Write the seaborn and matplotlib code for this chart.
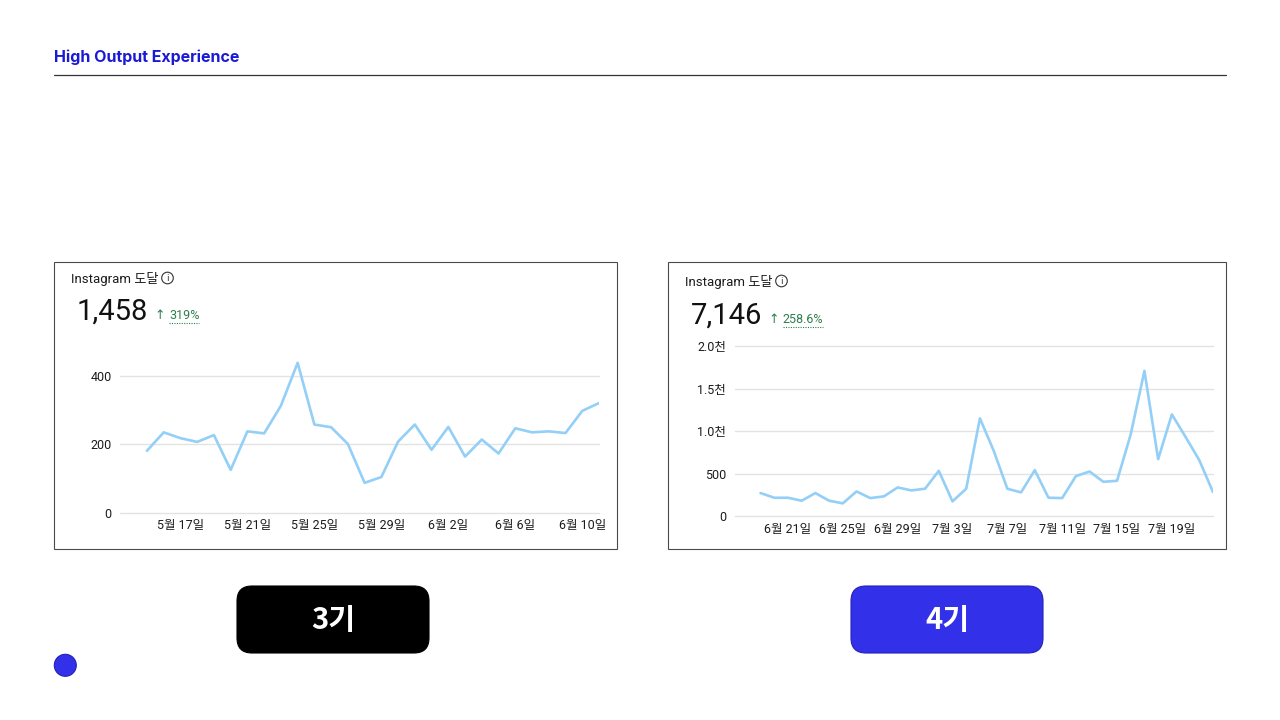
import seaborn as sns
import pandas as pd
import matplotlib.pyplot as plt
from matplotlib.patches import Rectangle, FancyBboxPatch, Circle
from matplotlib.lines import Line2D

W, H = 1280, 720

# 3기 : daily Instagram reach, 5/15 ~ 6/11
s3_start = '2023-05-15'
s3_values = [181, 235, 218, 207, 227, 125, 238, 232, 313, 439, 258, 250, 201, 87,
             104, 208, 258, 184, 251, 164, 214, 173, 247, 235, 238, 233, 298, 321]
s3_tick_dates = ['2023-05-17', '2023-05-21', '2023-05-25', '2023-05-29',
                 '2023-06-02', '2023-06-06', '2023-06-10']
s3_tick_labels = ['5월 17일', '5월 21일', '5월 25일', '5월 29일', '6월 2일', '6월 6일', '6월 10일']
s3_yticks = [0, 200, 400]
s3_ylabels = ['0', '200', '400']
s3_total = '1,458'
s3_change = '319%'

# 4기 : daily Instagram reach, 6/19 ~ 7/22
s4_start = '2023-06-19'
s4_values = [273, 218, 218, 183, 273, 183, 152, 292, 214, 234, 339, 304, 324, 534,
             175, 324, 1150, 772, 324, 281, 542, 218, 214, 472, 526, 405, 417, 963,
             1708, 671, 1197, 932, 659, 285]
s4_tick_dates = ['2023-06-21', '2023-06-25', '2023-06-29', '2023-07-03',
                 '2023-07-07', '2023-07-11', '2023-07-15', '2023-07-19']
s4_tick_labels = ['6월 21일', '6월 25일', '6월 29일', '7월 3일', '7월 7일', '7월 11일', '7월 15일', '7월 19일']
s4_yticks = [0, 500, 1000, 1500, 2000]
s4_ylabels = ['0', '500', '1.0천', '1.5천', '2.0천']
s4_total = '7,146'
s4_change = '258.6%'

sns.set_theme(style="white")
FONT = ['Roboto', 'Noto Sans CJK KR', 'DejaVu Sans']
plt.rcParams['font.family'] = FONT

LINE = '#93cff7'
GREEN = '#2f7d4c'
BLUE = '#3330ea'

fig = plt.figure(figsize=(12.8, 7.2), dpi=100)
bg = fig.add_axes([0, 0, 1, 1])
bg.set_xlim(0, W)
bg.set_ylim(H, 0)
bg.axis('off')

# header
bg.text(54, 62, 'High Output Experience', fontsize=11.5, fontweight='bold',
        color='#1a1ad6', family=['Inter', 'DejaVu Sans'], va='baseline')
bg.add_line(Line2D([54, 1226], [75, 75], color='#333333', lw=0.9))


def chart(box, plot_px, start, values, left_pad, ylim_top, tick_dates, tick_labels,
          yticks, ylabels, total, change, head_y, num_y):
    bx0, by0, bx1, by1 = box
    bg.add_patch(Rectangle((bx0, by0), bx1 - bx0, by1 - by0, fill=False,
                           ec='#4a4a4a', lw=0.8))
    # header texts
    h = bg.text(bx0 + 17, head_y, 'Instagram 도달', fontsize=9.5, color='#1c1c1c',
                family=FONT, va='baseline')
    fig.canvas.draw()
    cx = h.get_window_extent().x1 + 9
    bg.add_patch(Circle((cx, head_y - 5), 5.8, fill=False, ec='#333333', lw=0.8))
    bg.text(cx, head_y - 4.5, 'i', fontsize=6.5, color='#333333', ha='center',
            va='center', family=['DejaVu Sans'])
    t = bg.text(bx0 + 23, num_y, total, fontsize=21, color='#111111',
                family=FONT, va='baseline')
    fig.canvas.draw()
    nx = t.get_window_extent().x1 + 6
    a = bg.text(nx, num_y - 1, '↑', fontsize=9, color=GREEN, family=['DejaVu Sans'],
                va='baseline')
    fig.canvas.draw()
    c = bg.text(a.get_window_extent().x1 + 4, num_y - 1, change, fontsize=9,
                color=GREEN, family=FONT, va='baseline')
    fig.canvas.draw()
    cext = c.get_window_extent()
    bg.add_line(Line2D([cext.x0, cext.x1], [num_y + 2.5, num_y + 2.5],
                       color=GREEN, lw=0.8, ls=(0, (1, 1.2))))

    px0, py0, px1, py1 = plot_px
    ax = fig.add_axes([px0 / W, 1 - py1 / H, (px1 - px0) / W, (py1 - py0) / H])
    ax.set_facecolor('none')
    df = pd.DataFrame({'date': pd.date_range(start, periods=len(values), freq='D'),
                       'reach': values})
    sns.lineplot(data=df, x='date', y='reach', ax=ax, color=LINE, linewidth=1.9)
    ax.set_xlim(df['date'].iloc[0] - pd.Timedelta(days=left_pad), df['date'].iloc[-1])
    ax.set_ylim(0, ylim_top)
    ax.set_yticks(yticks)
    ax.set_yticklabels(ylabels)
    ax.set_xticks(pd.to_datetime(tick_dates))
    ax.set_xticklabels(tick_labels)
    ax.grid(axis='y', color='#e3e3e3', lw=1.0)
    ax.grid(axis='x', visible=False)
    for s in ax.spines.values():
        s.set_visible(False)
    ax.tick_params(axis='both', length=0, labelsize=9, colors='#1c1c1c')
    ax.tick_params(axis='y', pad=6)
    ax.tick_params(axis='x', pad=5)
    for lab in ax.get_xticklabels() + ax.get_yticklabels():
        lab.set_family(FONT)
    ax.set_xlabel('')
    ax.set_ylabel('')
    for line in ax.get_ygridlines():
        line.set_clip_on(False)
    return ax


chart((54, 262, 617, 549), (120, 342, 599, 512.5), s3_start, s3_values, 1.61, 500,
      s3_tick_dates, s3_tick_labels, s3_yticks, s3_ylabels,
      s3_total, s3_change, 283, 320)

chart((668, 262, 1226, 549), (734.5, 346, 1213, 516.3), s4_start, s4_values, 1.9, 2000,
      s4_tick_dates, s4_tick_labels, s4_yticks, s4_ylabels,
      s4_total, s4_change, 286, 324)

# cohort buttons
bg.add_patch(FancyBboxPatch((237 + 15, 586 + 15), 192 - 30, 67 - 30,
                            boxstyle='round,pad=15', fc='black', ec='black', lw=0.8))
bg.text(333, 620, '3기', fontsize=21, fontweight='bold', color='white', ha='center',
        va='center', family=['Noto Sans CJK KR', 'DejaVu Sans'])
bg.add_patch(FancyBboxPatch((851 + 15, 586 + 15), 192 - 30, 67 - 30,
                            boxstyle='round,pad=15', fc=BLUE, ec='#2222b8', lw=0.8))
bg.text(947, 620, '4기', fontsize=21, fontweight='bold', color='white', ha='center',
        va='center', family=['Noto Sans CJK KR', 'DejaVu Sans'])

bg.add_patch(Circle((65.3, 665.3), 11, fc=BLUE, ec='#2222b8', lw=0.8))

fig.savefig('out.png', dpi=100)
